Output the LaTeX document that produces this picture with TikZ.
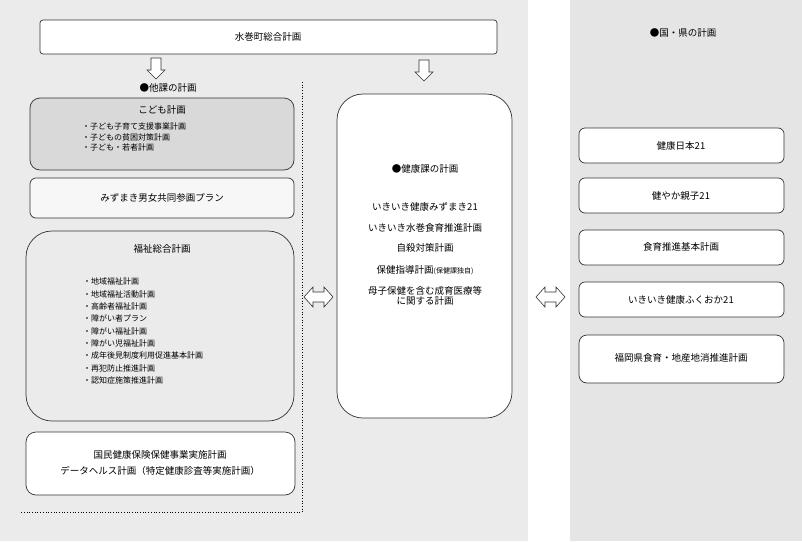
\documentclass[tikz,border=0pt]{standalone}
\usepackage{fontspec}
\setmainfont{Noto Sans CJK JP}
\begin{document}
\begin{tikzpicture}[x=1pt,y=-1pt,
 box/.style={draw=black!80,line width=0.7pt,rounded corners=6pt,fill=white},
 big/.style={box,rounded corners=26pt},
 t/.style={font=\fontsize{9.5}{12}\selectfont,inner sep=0pt},
 s/.style={font=\fontsize{8}{10.5}\selectfont,inner sep=0pt,align=left},
 hol/.style={draw=black!80,line width=0.6pt,fill=white}]
\useasboundingbox (0,0) rectangle (802,541);
\fill[black!8] (0,0) rectangle (528,541);
\fill[black!10] (570,0) rectangle (802,541);
% top
\draw[box,rounded corners=3pt] (40,20) rectangle (497,54);
\node[t] (top) at (268,37) {水巻町総合計画};
% down arrows
\foreach \x/\y in {156/58,424/60}{
 \draw[hol] (\x-5,\y) -- (\x+5,\y) -- (\x+5,\y+12) -- (\x+9,\y+12) -- (\x,\y+21) -- (\x-9,\y+12) -- (\x-5,\y+12) -- cycle;}
\node[t] (other) at (168,88) {●他課の計画};
\draw[dotted,line width=0.7pt] (302,82) -- (302,512) -- (20,512);
% kodomo
\draw[box,fill=black!15,rounded corners=10pt] (30,98) rectangle (294,170);
\node[t] (kodomo) at (162,110) {こども計画};
\node[s,anchor=north west] (kl) at (82,123) {・子ども子育て支援事業計画\\・子どもの貧困対策計画\\・子ども・若者計画};
\draw[box,fill=black!3] (30,178) rectangle (294,218);
\node[t] (danjo) at (162,198) {みずまき男女共同参画プラン};
\draw[big,fill=black!8] (26,231) rectangle (294,421);
\node[t] (fukushi) at (162,249) {福祉総合計画};
\node[s,anchor=north west,font=\fontsize{8}{12.3}\selectfont] (fl) at (83,278) {・地域福祉計画\\・地域福祉活動計画\\・高齢者福祉計画\\・障がい者プラン\\・障がい福祉計画\\・障がい児福祉計画\\・成年後見制度利用促進基本計画\\・再犯防止推進計画\\・認知症施策推進計画};
\draw[box,rounded corners=10pt] (26,432) rectangle (295,495);
\node[t,align=center,font=\fontsize{9.5}{16}\selectfont] (kokuho) at (160,463) {国民健康保険保健事業実施計画\\データヘルス計画（特定健康診査等実施計画）};
% center
\draw[big] (337,94) rectangle (512,418);
\node[t] (kenko) at (425,169) {●健康課の計画};
\node[t] (c1) at (425,207) {いきいき健康みずまき21};
\node[t] (c2) at (425,228) {いきいき水巻食育推進計画};
\node[t] (c3) at (425,248) {自殺対策計画};
\node[t] (c4) at (425,270) {保健指導計画{\fontsize{7}{8}\selectfont (保健課独自)}};
\node[t,align=center,font=\fontsize{9.5}{10}\selectfont] (c5) at (425,296) {母子保健を含む成育医療等\\に関する計画};
% double arrows
\foreach \x in {304,536}{
 \draw[hol] (\x,297) -- (\x+9,287) -- (\x+9,292) -- (\x+20,292) -- (\x+20,287) -- (\x+29,297) -- (\x+20,307) -- (\x+20,302) -- (\x+9,302) -- (\x+9,307) -- cycle;}
% right
\node[t] (kuni) at (683,33) {●国・県の計画};
\draw[box] (579,128) rectangle (784,163); \node[t] (r1) at (681,146) {健康日本21};
\draw[box] (579,178) rectangle (784,213); \node[t] (r2) at (681,196) {健やか親子21};
\draw[box] (579,230) rectangle (784,265); \node[t] (r3) at (681,247) {食育推進基本計画};
\draw[box] (579,282) rectangle (784,317); \node[t] (r4) at (681,300) {いきいき健康ふくおか21};
\draw[box,rounded corners=8pt] (579,335) rectangle (784,383); \node[t] (r5) at (681,358) {福岡県食育・地産地消推進計画};
\end{tikzpicture}
\end{document}
